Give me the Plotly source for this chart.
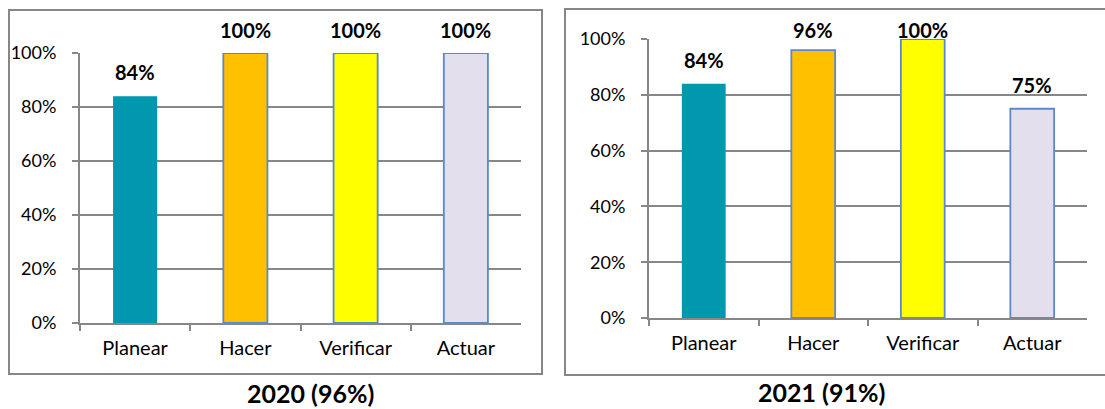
import plotly.graph_objects as go

# Datos del ciclo PHVA por año
categorias = ["Planear", "Hacer", "Verificar", "Actuar"]
valores_2020 = [84, 100, 100, 100]
valores_2021 = [84, 96, 100, 75]
titulo_2020 = "2020 (96%)"
titulo_2021 = "2021 (91%)"
ticks_y = [0, 20, 40, 60, 80, 100]

colores = ["#0097AF", "#FFC000", "#FFFF00", "#E4DFEC"]
bordes = ["#0097AF", "#5B88C8", "#5B88C8", "#5B88C8"]
anchos_borde = [0, 1.8, 1.8, 1.8]

W, H = 1105, 409
FONT = "Lato"
GRIS = "#878787"

# Geometría de cada panel, en píxeles
paneles = [
    dict(vals=valores_2020, titulo=titulo_2020, x0=80, x1=521, y0=53, y1=323,
         caja=(9, 10, 542, 374), tx=310, ty=393),
    dict(vals=valores_2021, titulo=titulo_2021, x0=649, x1=1087, y0=39, y1=318,
         caja=(565, 9, 1110, 375), tx=821, ty=392),
]


def px_x(v):
    return v / W


def px_y(v):
    return 1 - v / H


fig = go.Figure()
anotaciones = []
formas = []

for i, p in enumerate(paneles, start=1):
    xa = "x" if i == 1 else f"x{i}"
    ya = "y" if i == 1 else f"y{i}"
    fig.add_trace(go.Bar(
        x=categorias, y=p["vals"], xaxis=xa, yaxis=ya,
        marker=dict(color=colores, line=dict(color=bordes, width=anchos_borde)),
        width=0.4, showlegend=False, hoverinfo="x+y",
    ))
    alto = p["y1"] - p["y0"]
    for cat, v in zip(categorias, p["vals"]):
        # posición del borde superior de la barra en píxeles
        tope = p["y0"] + (1 - v / 100) * alto
        desplaz = min(24, tope - 30)
        anotaciones.append(dict(
            x=cat, y=v, xref=xa, yref=ya, text=f"<b>{v}%</b>", showarrow=False,
            yanchor="middle", yshift=desplaz,
            font=dict(family=FONT, size=20, color="#000000"),
        ))
    anotaciones.append(dict(
        x=px_x(p["tx"]), y=px_y(p["ty"]), xref="paper", yref="paper",
        text=f"<b>{p['titulo']}</b>", showarrow=False, xanchor="center", yanchor="middle",
        font=dict(family=FONT, size=25, color="#000000"),
    ))
    cx0, cy0, cx1, cy1 = p["caja"]
    formas.append(dict(type="rect", xref="paper", yref="paper",
                       x0=px_x(cx0), x1=px_x(cx1), y0=px_y(cy1), y1=px_y(cy0),
                       line=dict(color=GRIS, width=2), layer="below"))

    eje_x = dict(
        domain=[px_x(p["x0"]), px_x(p["x1"])], anchor=ya, type="category",
        showline=True, linecolor=GRIS, linewidth=2, showgrid=False,
        ticks="outside", ticklen=6, tickcolor=GRIS, tickwidth=2, tickson="boundaries",
        tickfont=dict(family=FONT, size=20, color="#000000"),
        ticklabelstandoff=6, fixedrange=True, automargin=False,
    )
    eje_y = dict(
        domain=[px_y(p["y1"]), px_y(p["y0"])], anchor=xa, range=[0, 100],
        tickvals=ticks_y, ticktext=[f"{t}%" for t in ticks_y],
        showline=True, linecolor=GRIS, linewidth=2,
        showgrid=True, gridcolor=GRIS, gridwidth=2, zeroline=False,
        ticks="outside", ticklen=6, tickcolor=GRIS, tickwidth=2,
        tickfont=dict(family=FONT, size=18, color="#000000"),
        ticklabelstandoff=12, fixedrange=True, automargin=False,
    )
    fig.update_layout(**{
        ("xaxis" if i == 1 else f"xaxis{i}"): eje_x,
        ("yaxis" if i == 1 else f"yaxis{i}"): eje_y,
    })

fig.update_layout(
    width=W, height=H, margin=dict(l=0, r=0, t=0, b=0, pad=0, autoexpand=False),
    paper_bgcolor="white", plot_bgcolor="white",
    annotations=anotaciones, shapes=formas,
    font=dict(family=FONT),
)

fig.write_html("out.html", config={"displayModeBar": False})
